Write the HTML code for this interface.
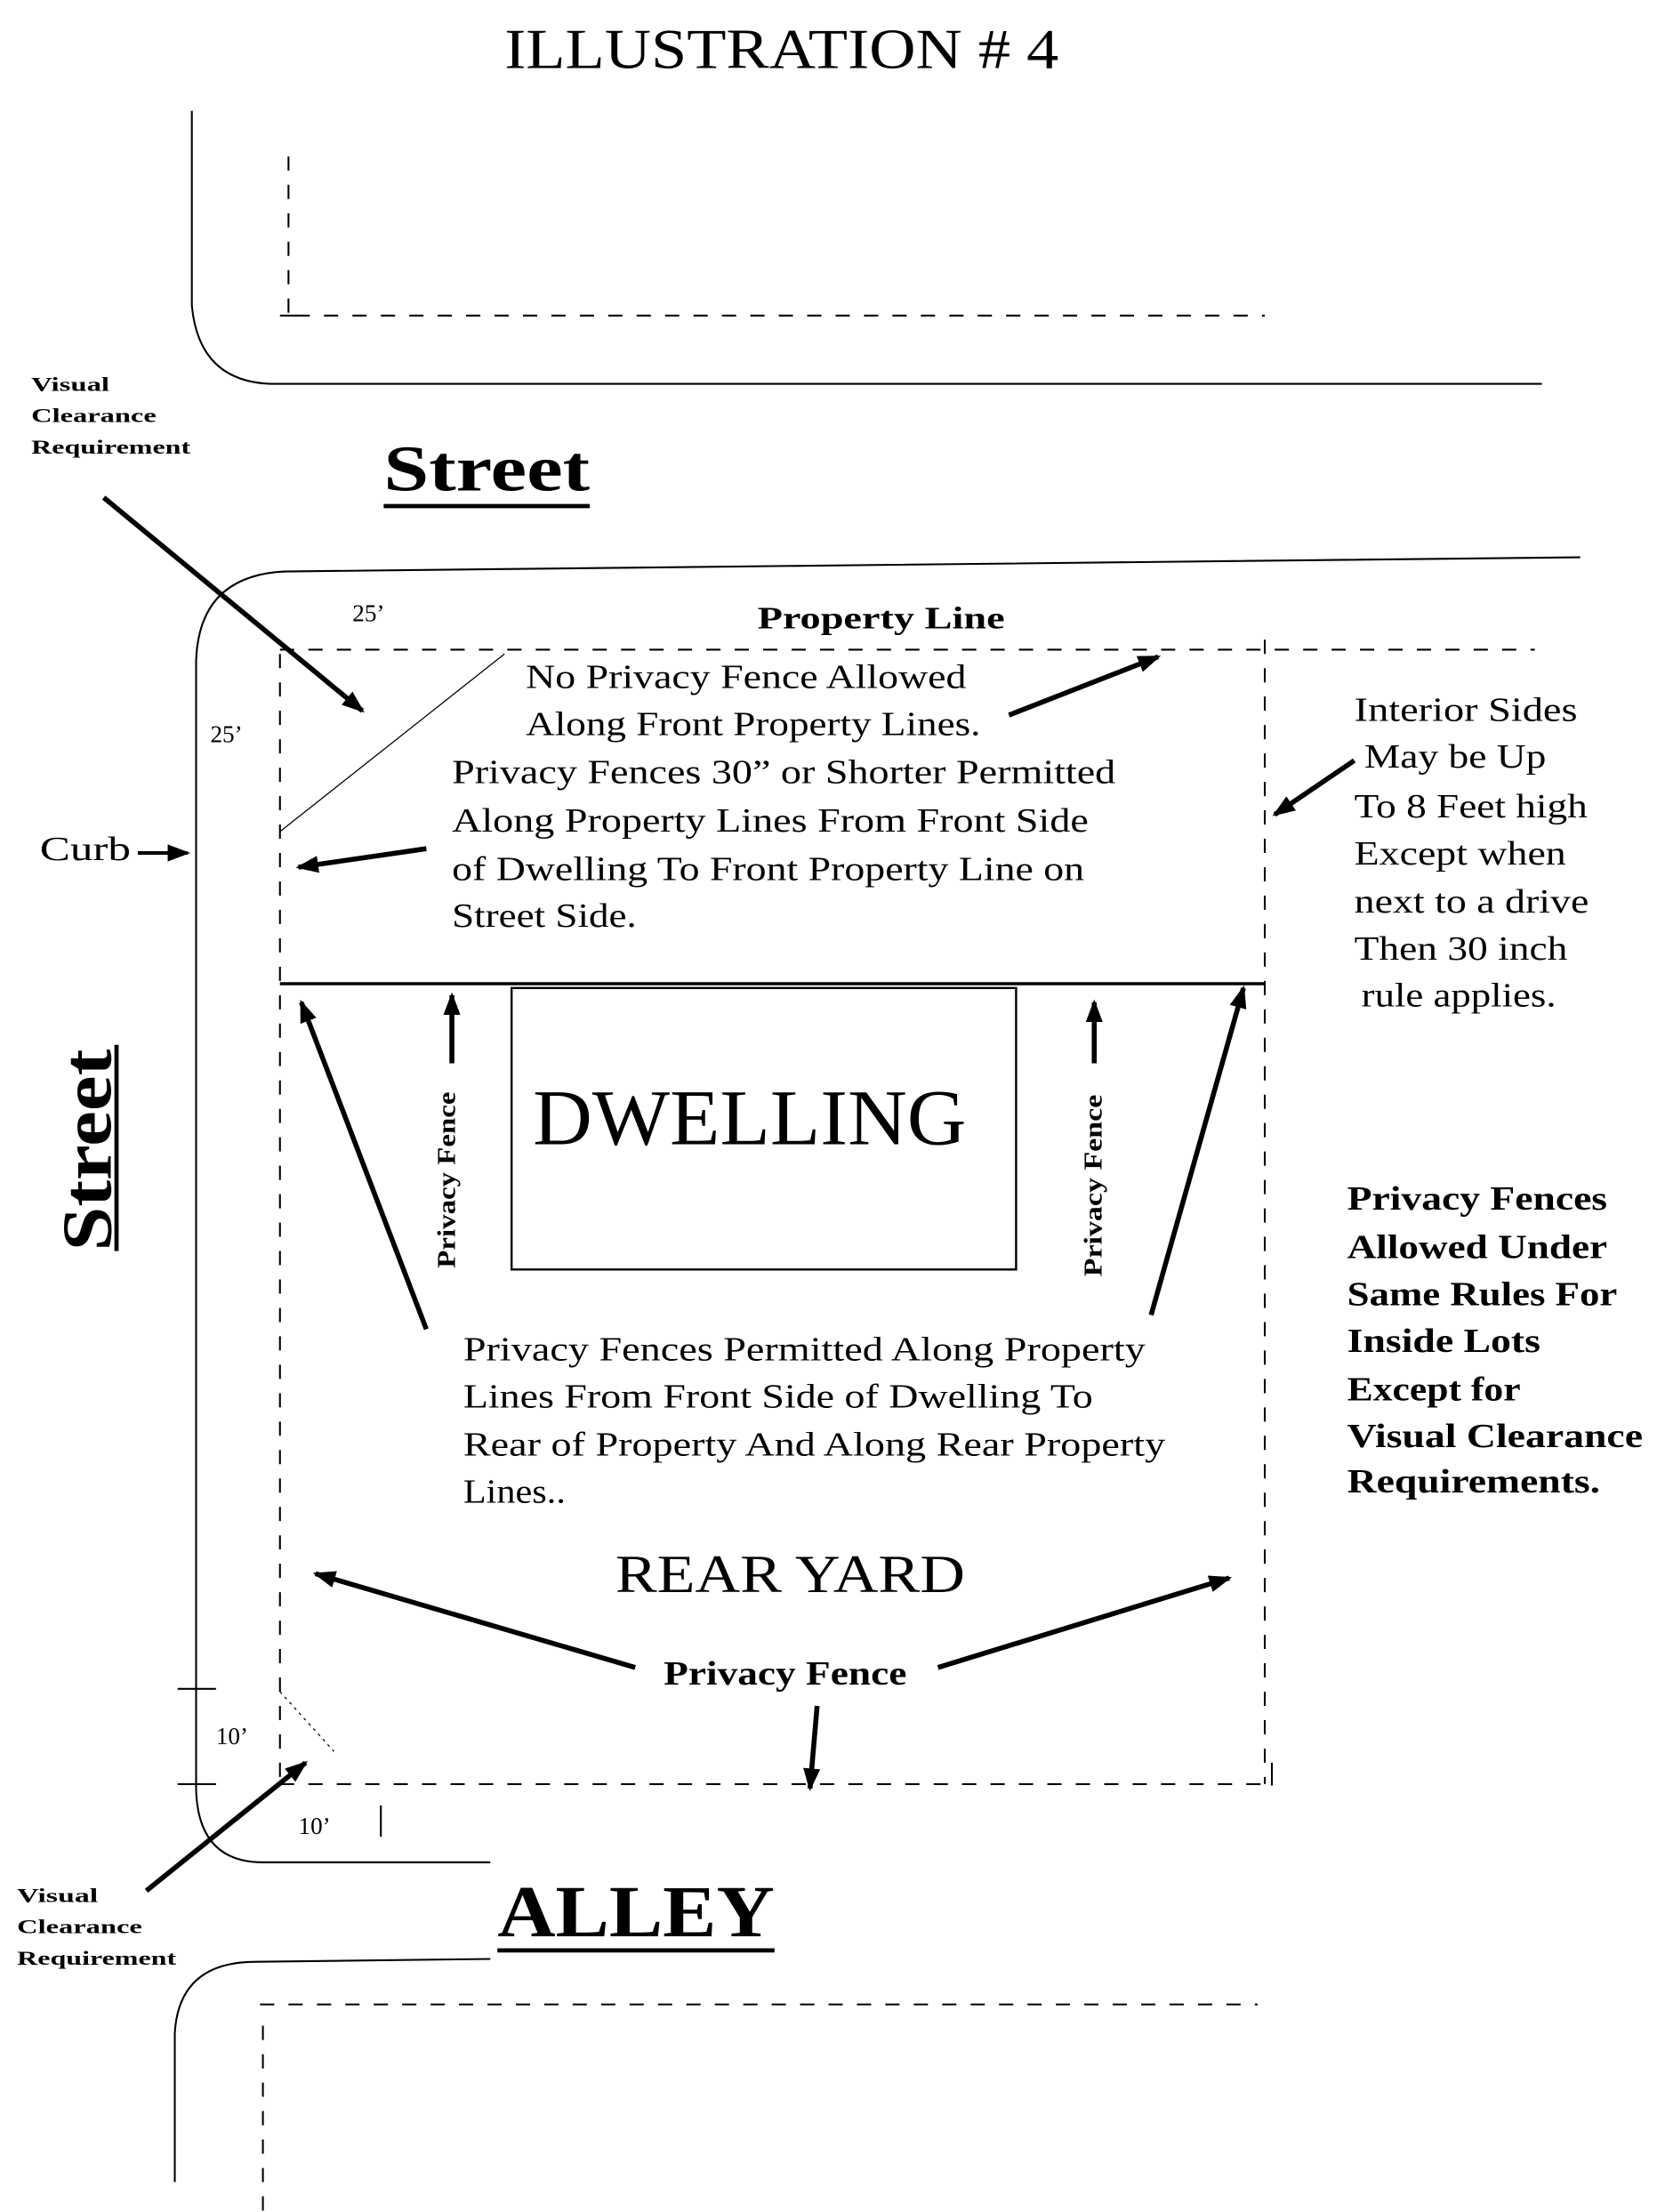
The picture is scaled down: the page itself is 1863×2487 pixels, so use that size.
<!DOCTYPE html>
<html><head><meta charset="utf-8"><style>html,body{margin:0;padding:0;background:#fff}svg{display:block}</style></head>
<body>
<svg width="1863" height="2487" viewBox="0 0 1166 1556" preserveAspectRatio="none" xmlns="http://www.w3.org/2000/svg" font-family="Liberation Serif, serif">
<defs>
<marker id="b" markerWidth="16" markerHeight="12" refX="14" refY="6" orient="auto" markerUnits="userSpaceOnUse"><path d="M0,0 L16,6 L0,12 z" fill="#000"/></marker></defs>
<g fill="#000">
<text x="355" y="48" font-size="40" textLength="390" lengthAdjust="spacingAndGlyphs">ILLUSTRATION # 4</text>
<g font-weight="bold" font-size="14"><text x="22" y="275" textLength="55" lengthAdjust="spacingAndGlyphs">Visual</text><text x="22" y="297" textLength="88" lengthAdjust="spacingAndGlyphs">Clearance</text><text x="22" y="319" textLength="112" lengthAdjust="spacingAndGlyphs">Requirement</text>
<text x="12" y="1338" textLength="57" lengthAdjust="spacingAndGlyphs">Visual</text><text x="12" y="1360" textLength="88" lengthAdjust="spacingAndGlyphs">Clearance</text><text x="12" y="1382" textLength="112" lengthAdjust="spacingAndGlyphs">Requirement</text></g>
<text x="270" y="345" font-size="46" font-weight="bold" textLength="145" lengthAdjust="spacingAndGlyphs">Street</text>
<text x="248" y="437" font-size="17">25’</text><text x="148" y="522" font-size="17">25’</text>
<text x="533" y="442" font-size="22" font-weight="bold" textLength="174" lengthAdjust="spacingAndGlyphs">Property Line</text>
<g font-size="24">
<text x="370" y="484" textLength="310" lengthAdjust="spacingAndGlyphs">No Privacy Fence Allowed</text>
<text x="370" y="517" textLength="320" lengthAdjust="spacingAndGlyphs">Along Front Property Lines.</text>
<text x="318" y="551" textLength="467" lengthAdjust="spacingAndGlyphs">Privacy Fences 30” or Shorter Permitted</text>
<text x="318" y="585" textLength="448" lengthAdjust="spacingAndGlyphs">Along Property Lines From Front Side</text>
<text x="318" y="619" textLength="445" lengthAdjust="spacingAndGlyphs">of Dwelling To Front Property Line on</text>
<text x="318" y="652" textLength="130" lengthAdjust="spacingAndGlyphs">Street Side.</text>
<text x="28" y="605" textLength="64" lengthAdjust="spacingAndGlyphs">Curb</text>
<text x="953" y="507" textLength="157" lengthAdjust="spacingAndGlyphs">Interior Sides</text>
<text x="960" y="540" textLength="128" lengthAdjust="spacingAndGlyphs">May be Up</text>
<text x="953" y="575" textLength="164" lengthAdjust="spacingAndGlyphs">To 8 Feet high</text>
<text x="953" y="608" textLength="149" lengthAdjust="spacingAndGlyphs">Except when</text>
<text x="953" y="642" textLength="165" lengthAdjust="spacingAndGlyphs">next to a drive</text>
<text x="953" y="675" textLength="150" lengthAdjust="spacingAndGlyphs">Then 30 inch</text>
<text x="958" y="708" textLength="137" lengthAdjust="spacingAndGlyphs">rule applies.</text>
<text x="326" y="957" textLength="480" lengthAdjust="spacingAndGlyphs">Privacy Fences Permitted Along Property</text>
<text x="326" y="990" textLength="443" lengthAdjust="spacingAndGlyphs">Lines From Front Side of Dwelling To</text>
<text x="326" y="1024" textLength="494" lengthAdjust="spacingAndGlyphs">Rear of Property And Along Rear Property</text>
<text x="326" y="1057" textLength="72" lengthAdjust="spacingAndGlyphs">Lines..</text>
</g>
<g font-size="24" font-weight="bold">
<text x="948" y="851" textLength="183" lengthAdjust="spacingAndGlyphs">Privacy Fences</text>
<text x="948" y="885" textLength="183" lengthAdjust="spacingAndGlyphs">Allowed Under</text>
<text x="948" y="918" textLength="190" lengthAdjust="spacingAndGlyphs">Same Rules For</text>
<text x="948" y="951" textLength="136" lengthAdjust="spacingAndGlyphs">Inside Lots</text>
<text x="948" y="985" textLength="122" lengthAdjust="spacingAndGlyphs">Except for</text>
<text x="948" y="1018" textLength="208" lengthAdjust="spacingAndGlyphs">Visual Clearance</text>
<text x="948" y="1050" textLength="178" lengthAdjust="spacingAndGlyphs">Requirements.</text>
<text x="467" y="1185" textLength="171" lengthAdjust="spacingAndGlyphs">Privacy Fence</text>
</g>
<text x="375" y="805" font-size="56" textLength="305" lengthAdjust="spacingAndGlyphs">DWELLING</text>
<text x="433" y="1120" font-size="38" textLength="246" lengthAdjust="spacingAndGlyphs">REAR YARD</text>
<text transform="translate(320,892) rotate(-90)" font-size="18" font-weight="bold" textLength="124" lengthAdjust="spacingAndGlyphs">Privacy Fence</text>
<text transform="translate(775,898) rotate(-90)" font-size="18" font-weight="bold" textLength="128" lengthAdjust="spacingAndGlyphs">Privacy Fence</text>
<text transform="translate(78,880) rotate(-90)" font-size="50" font-weight="bold" textLength="142" lengthAdjust="spacingAndGlyphs">Street</text>
<text x="350" y="1362" font-size="52" font-weight="bold" textLength="195" lengthAdjust="spacingAndGlyphs">ALLEY</text>
<text x="152" y="1227" font-size="17">10’</text><text x="210" y="1290" font-size="17">10’</text>
</g>
<g fill="none" stroke="#000" stroke-width="1.3">
<path d="M135 78 L135 215 Q140 268 190 270 L1085 270"/>
<path d="M138 1260 L138 465 Q140 405 200 402 L1112 392"/>
<path d="M138 1260 Q140 1310 185 1310 L345 1310"/>
<path d="M123 1535 L123 1430 Q126 1380 180 1380 L345 1378"/>
<line x1="82" y1="735" x2="82" y2="880" stroke-width="3"/>
<line x1="270" y1="356" x2="415" y2="356" stroke-width="3"/>
<line x1="350" y1="1372" x2="545" y2="1372" stroke-width="3"/>
<g stroke-dasharray="10,10">
<line x1="203" y1="110" x2="203" y2="225"/><line x1="208" y1="222" x2="890" y2="222"/>
<line x1="197" y1="457" x2="1080" y2="457"/><line x1="197" y1="460" x2="197" y2="1255"/>
<line x1="890" y1="450" x2="890" y2="1255"/><line x1="197" y1="1255" x2="895" y2="1255"/>
<line x1="183" y1="1410" x2="885" y2="1410"/><line x1="185" y1="1425" x2="185" y2="1556"/>
</g>
<line x1="197" y1="222" x2="209" y2="222"/>
<line x1="197" y1="585" x2="355" y2="460" stroke-width="0.8"/>
<line x1="197" y1="1190" x2="235" y2="1232" stroke-width="0.8" stroke-dasharray="2,3"/>
<line x1="197" y1="692" x2="890" y2="692" stroke-width="2.2"/>
<rect x="360" y="695" width="355" height="198" stroke-width="1.5"/>
<line x1="125" y1="1188" x2="152" y2="1188"/><line x1="125" y1="1255" x2="152" y2="1255"/>
<line x1="268" y1="1270" x2="268" y2="1292"/>
<line x1="895" y1="1240" x2="895" y2="1256"/>
</g>
<g stroke="#000" stroke-width="3.5" fill="none" marker-end="url(#b)">
<line x1="73" y1="350" x2="255" y2="500"/>
<line x1="710" y1="503" x2="815" y2="462"/>
<line x1="300" y1="597" x2="210" y2="610"/>
<line x1="97" y1="600" x2="132" y2="600" stroke-width="2.5"/>
<line x1="953" y1="535" x2="897" y2="573"/>
<line x1="318" y1="748" x2="318" y2="700"/>
<line x1="770" y1="748" x2="770" y2="705"/>
<line x1="300" y1="935" x2="212" y2="705"/>
<line x1="810" y1="925" x2="875" y2="695"/>
<line x1="447" y1="1173" x2="222" y2="1107"/>
<line x1="660" y1="1173" x2="865" y2="1110"/>
<line x1="575" y1="1200" x2="570" y2="1258"/>
<line x1="103" y1="1330" x2="215" y2="1240"/>
</g>
</svg>
</body></html>
